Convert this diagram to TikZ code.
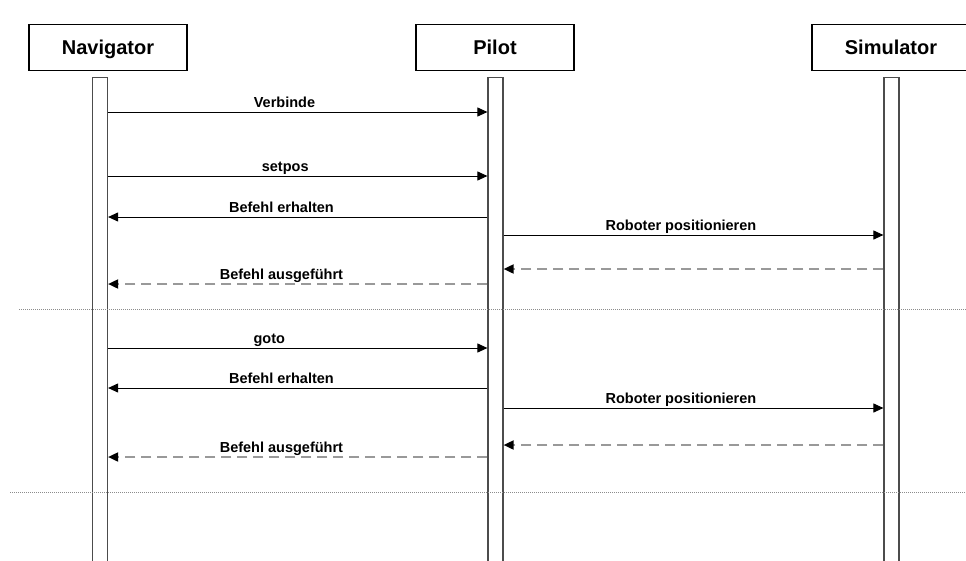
\documentclass[tikz,border=0pt]{standalone}
\usepackage{fontspec}
\setmainfont{Liberation Sans}
\usetikzlibrary{arrows.meta}
\tikzstyle{actor} = [rectangle, minimum width=158pt, minimum height=46pt, inner sep=0pt, text height=14.3pt, text depth=0pt, text centered, draw=black, line width=1.2pt, font=\fontsize{20}{24}\selectfont\bfseries]
\tikzstyle{lifeline} = [rectangle, anchor=north, minimum width=15pt, minimum height=500pt, inner sep=0pt, draw=black!70, line width=1.2pt, fill=white]
\tikzstyle{msg} = [line width=1pt, black, -{Triangle[length=10pt, width=9pt]}]
\tikzstyle{reply} = [line width=1.8pt, black!40, dash pattern=on 10pt off 6pt, -{Triangle[length=10pt, width=9pt, fill=black, color=black]}]
\tikzstyle{lbl} = [anchor=base, yshift=5pt, inner sep=0pt, text=black, font=\fontsize{14.5}{16}\selectfont\bfseries]
\tikzstyle{separator} = [line width=0.8pt, black!45, dash pattern=on 1pt off 1pt]

\begin{document}
\begin{tikzpicture}[x=1pt, y=-1pt]
\useasboundingbox (0,0) rectangle (966,560);

\node (nav) [actor] at (108,47.5) {Navigator};
\node (pilot) [actor] at (495,47.5) {Pilot};
\node (sim) [actor] at (891,47.5) {Simulator};

\node (navbar) [lifeline] at (100,77) {};
\node (pilotbar) [lifeline] at (495.5,77) {};
\node (simbar) [lifeline] at (891.5,77) {};

\draw [msg] (navbar.east |- 0,112) -- node[lbl, pos=0.465]{Verbinde} (pilotbar.west |- 0,112);
\draw [msg] (navbar.east |- 0,176) -- node[lbl, pos=0.467]{setpos} (pilotbar.west |- 0,176);
\draw [msg] (pilotbar.west |- 0,217) -- node[lbl, pos=0.543]{Befehl erhalten} (navbar.east |- 0,217);
\draw [msg] (pilotbar.east |- 0,235) -- node[lbl, pos=0.467]{Roboter positionieren} (simbar.west |- 0,235);
\draw [reply] (simbar.west |- 0,269) -- (pilotbar.east |- 0,269);
\draw [reply] (pilotbar.west |- 0,284) -- node[lbl, pos=0.543]{Befehl ausgeführt} (navbar.east |- 0,284);

\draw [separator] (19,309) -- (966,309);

\draw [msg] (navbar.east |- 0,348) -- node[lbl, pos=0.425]{goto} (pilotbar.west |- 0,348);
\draw [msg] (pilotbar.west |- 0,388) -- node[lbl, pos=0.543]{Befehl erhalten} (navbar.east |- 0,388);
\draw [msg] (pilotbar.east |- 0,408) -- node[lbl, pos=0.467]{Roboter positionieren} (simbar.west |- 0,408);
\draw [reply] (simbar.west |- 0,445) -- (pilotbar.east |- 0,445);
\draw [reply] (pilotbar.west |- 0,457) -- node[lbl, pos=0.543]{Befehl ausgeführt} (navbar.east |- 0,457);

\draw [separator] (10,492) -- (966,492);

\end{tikzpicture}
\end{document}
